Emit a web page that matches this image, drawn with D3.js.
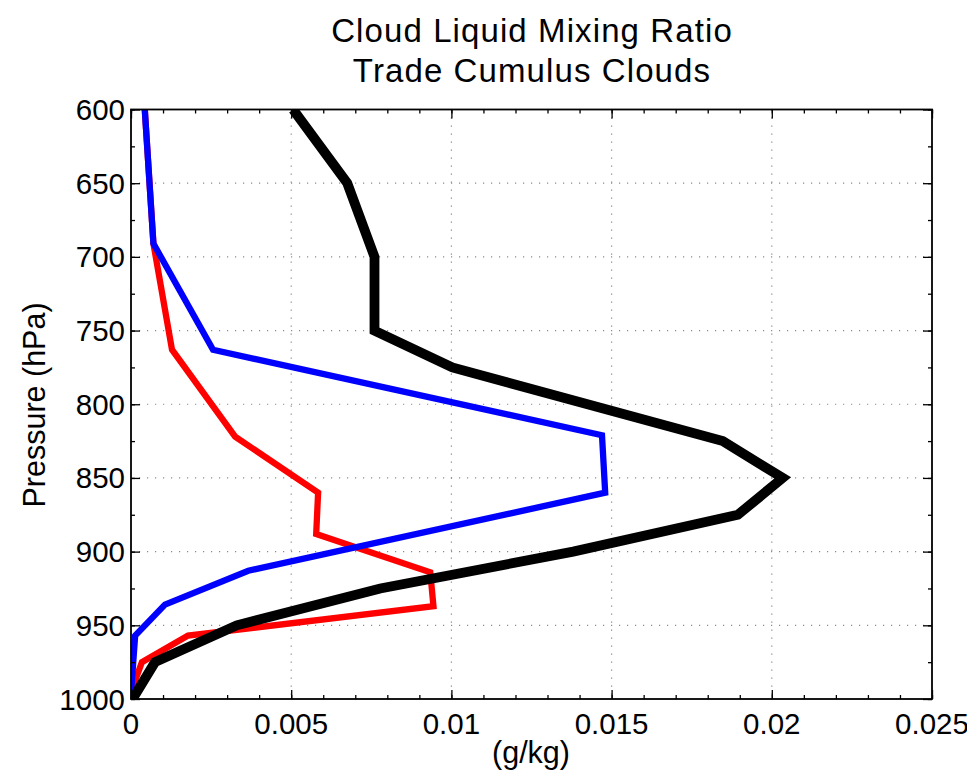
<!DOCTYPE html>
<html>
<head>
<meta charset="utf-8">
<script src="https://cdn.jsdelivr.net/npm/d3@7"></script>
<style>
  html, body { margin: 0; padding: 0; background: #fff; }
  svg { display: block; font-family: "Liberation Sans", Arial, Helvetica, sans-serif; }
</style>
</head>
<body>
<svg id="chart" width="967" height="772"></svg>
<script>
// Pressure levels (hPa) and cloud liquid mixing ratio (g/kg) for each profile
const blackPressure = [600, 650, 700, 750, 775, 825, 850, 875, 900, 925, 950, 975, 1000];
const blackValues   = [0.00506, 0.00675, 0.0076, 0.0076, 0.01003, 0.01847, 0.02034, 0.01894, 0.0138, 0.00778, 0.0033, 0.00075, 0.00005];

const bluePressure = [600, 691, 763, 821, 860, 913, 936, 957, 990, 1000];
const blueValues   = [0.00043, 0.0007, 0.00256, 0.0147, 0.0148, 0.00366, 0.00106, 0.00013, 0.00002, 0];

const redPressure = [600, 691, 763, 822, 860, 888, 914, 937, 957, 975, 994, 1000];
const redValues   = [0.00043, 0.0007, 0.00128, 0.00325, 0.00584, 0.00578, 0.00934, 0.00944, 0.00178, 0.00034, 0.00002, 0];

const xTicks = [0, 0.005, 0.01, 0.015, 0.02, 0.025];
const xTickLabels = ["0", "0.005", "0.01", "0.015", "0.02", "0.025"];
const yTicks = [600, 650, 700, 750, 800, 850, 900, 950, 1000];
const yTickLabels = ["600", "650", "700", "750", "800", "850", "900", "950", "1000"];
const xMinorTicks = d3.range(0, 26).map(i => i * 0.001);
const yMinorTicks = d3.range(0, 17).map(i => 600 + i * 25);

const titleLines = ["Cloud Liquid Mixing Ratio", "Trade Cumulus Clouds"];
const xLabel = "(g/kg)";
const yLabel = "Pressure (hPa)";

const margin = { left: 131, top: 109.5, right: 967 - 932, bottom: 772 - 699 };
const svg = d3.select("#chart");
const W = 967, H = 772;
const x = d3.scaleLinear().domain([0, 0.025]).range([margin.left, W - margin.right]);
const y = d3.scaleLinear().domain([600, 1000]).range([margin.top, H - margin.bottom]);

// dotted grid at major ticks
const grid = svg.append("g").attr("stroke", "#8a8a8a").attr("stroke-width", 1.2)
  .attr("stroke-dasharray", "1.2,6.8");
xTicks.slice(1, -1).forEach(v => {
  grid.append("line").attr("x1", x(v)).attr("x2", x(v)).attr("y1", y(600)).attr("y2", y(1000));
});
yTicks.slice(1, -1).forEach(v => {
  grid.append("line").attr("x1", x(0)).attr("x2", x(0.025)).attr("y1", y(v)).attr("y2", y(v));
});

// profiles: red, then blue, then black on top
const line = d3.line().x(d => x(d[0])).y(d => y(d[1]));
const profiles = [
  { vals: redValues, pres: redPressure, color: "#ff0000", width: 6.3 },
  { vals: blueValues, pres: bluePressure, color: "#0000ff", width: 6.3 },
  { vals: blackValues, pres: blackPressure, color: "#000000", width: 9.8 }
];
svg.append("clipPath").attr("id", "plotclip").append("rect")
  .attr("x", x(0)).attr("y", y(600)).attr("width", x(0.025) - x(0)).attr("height", y(1000) - y(600));
const plot = svg.append("g").attr("clip-path", "url(#plotclip)");
profiles.forEach(p => {
  plot.append("path")
    .datum(p.vals.map((v, i) => [v, p.pres[i]]))
    .attr("d", line)
    .attr("fill", "none")
    .attr("stroke", p.color)
    .attr("stroke-width", p.width)
    .attr("stroke-linejoin", "miter")
    .attr("stroke-miterlimit", 4);
});

// axes with inward ticks on all four sides
function styleAxis(g) {
  g.select(".domain").remove();
  g.selectAll("line").attr("stroke", "#000").attr("stroke-width", 1.3);
}
const majorLen = 9, minorLen = 4;
svg.append("g").attr("transform", `translate(0,${y(1000)})`)
  .call(d3.axisBottom(x).tickValues(xMinorTicks).tickSize(-minorLen).tickFormat("")).call(styleAxis);
svg.append("g").attr("transform", `translate(0,${y(1000)})`)
  .call(d3.axisBottom(x).tickValues(xTicks).tickSize(-majorLen).tickFormat("")).call(styleAxis);
svg.append("g").attr("transform", `translate(0,${y(600)})`)
  .call(d3.axisTop(x).tickValues(xMinorTicks).tickSize(-minorLen).tickFormat("")).call(styleAxis);
svg.append("g").attr("transform", `translate(0,${y(600)})`)
  .call(d3.axisTop(x).tickValues(xTicks).tickSize(-majorLen).tickFormat("")).call(styleAxis);
svg.append("g").attr("transform", `translate(${x(0)},0)`)
  .call(d3.axisLeft(y).tickValues(yMinorTicks).tickSize(-minorLen).tickFormat("")).call(styleAxis);
svg.append("g").attr("transform", `translate(${x(0)},0)`)
  .call(d3.axisLeft(y).tickValues(yTicks).tickSize(-majorLen).tickFormat("")).call(styleAxis);
svg.append("g").attr("transform", `translate(${x(0.025)},0)`)
  .call(d3.axisRight(y).tickValues(yMinorTicks).tickSize(-minorLen).tickFormat("")).call(styleAxis);
svg.append("g").attr("transform", `translate(${x(0.025)},0)`)
  .call(d3.axisRight(y).tickValues(yTicks).tickSize(-majorLen).tickFormat("")).call(styleAxis);

// frame
svg.append("rect")
  .attr("x", x(0)).attr("y", y(600))
  .attr("width", x(0.025) - x(0)).attr("height", y(1000) - y(600))
  .attr("fill", "none").attr("stroke", "#000").attr("stroke-width", 1.8);

// tick labels
svg.append("g").selectAll("text").data(xTicks).join("text")
  .attr("x", d => x(d)).attr("y", 734)
  .attr("text-anchor", "middle").attr("font-size", 29.5).attr("fill", "#000")
  .text((d, i) => xTickLabels[i]);
svg.append("g").selectAll("text").data(yTicks).join("text")
  .attr("x", 125).attr("y", d => y(d) + 10.5)
  .attr("text-anchor", "end").attr("font-size", 29.5).attr("fill", "#000")
  .text((d, i) => yTickLabels[i]);

// axis labels
svg.append("text").attr("x", 531).attr("y", 763)
  .attr("text-anchor", "middle").attr("font-size", 30.5).attr("fill", "#000").text(xLabel);
svg.append("text").attr("transform", "translate(45,405) rotate(-90)")
  .attr("text-anchor", "middle").attr("font-size", 30.5).attr("fill", "#000").text(yLabel);

// title
svg.append("g").selectAll("text").data(titleLines).join("text")
  .attr("x", 532).attr("y", (d, i) => 42 + i * 40)
  .attr("text-anchor", "middle").attr("font-size", 33).attr("fill", "#000")
  .attr("letter-spacing", 1.1)
  .text(d => d);
</script>
</body>
</html>
